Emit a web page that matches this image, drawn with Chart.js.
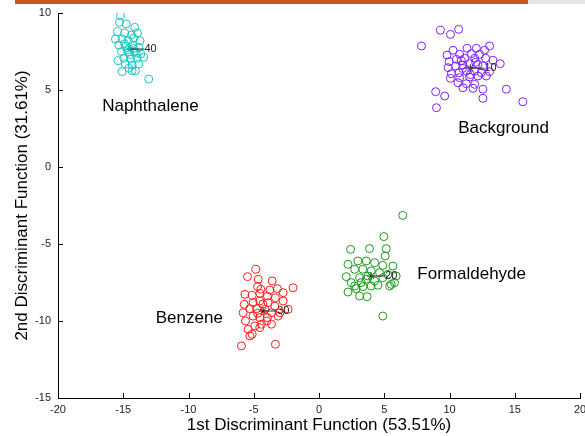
<!DOCTYPE html>
<html>
<head>
<meta charset="utf-8">
<script src="https://cdn.jsdelivr.net/npm/chart.js@4/dist/chart.umd.min.js"></script>
<style>
  html, body { margin: 0; padding: 0; background: #fff; }
  #wrap { position: relative; width: 585px; height: 436px; }
  #topbar { position: absolute; left: 15px; top: 0; width: 513px; height: 4px; background: #c8561f; }
  #topgray { position: absolute; left: 528px; top: 0; width: 57px; height: 4px; background: #e4e4e4; }
</style>
</head>
<body>
<div id="wrap">
  <canvas id="ldaChart" width="585" height="436"></canvas>
  <div id="topbar"></div>
  <div id="topgray"></div>
</div>
<script>
// LDA scatter: 4 groups
const naphX = [-15.21, -15.29, -14.78, -14.12, -15.44, -14.88, -14.37, -13.91, -15.60, -15.09, -14.63, -14.20, -13.71,
  -15.34, -14.83, -14.27, -13.81, -15.14, -14.63, -14.12, -13.66, -14.96, -14.45, -13.94, -13.43, -14.83, -14.32,
  -13.81, -14.58, -14.07, -15.09, -14.32, -13.05, -14.70, -14.20, -14.50, -14.90, -14.00, -15.40];
const naphY = [9.82, 9.40, 9.29, 9.07, 8.79, 8.70, 8.57, 8.70, 8.31, 8.31, 8.20, 8.36, 8.20,
  7.92, 7.84, 7.92, 7.77, 7.49, 7.45, 7.49, 7.34, 7.06, 7.01, 7.06, 7.12, 6.69, 6.62,
  6.69, 6.41, 6.25, 6.19, 6.25, 5.71, 7.60, 7.70, 7.30, 8.00, 7.40, 6.90];

const bgX = [9.30, 10.07, 10.70, 7.85, 13.07, 10.27, 11.34, 12.06, 12.69, 9.81, 10.78, 11.67, 12.31, 9.97, 10.53,
  11.16, 11.93, 12.77, 13.33, 13.89, 9.89, 10.47, 11.03, 11.54, 12.18, 12.56, 10.14, 10.73, 11.29, 11.93,
  12.44, 13.07, 10.07, 10.78, 11.54, 12.18, 12.82, 10.65, 11.29, 11.93, 11.03, 11.80, 12.56, 8.94, 9.63,
  14.35, 12.56, 9.00, 15.62, 11.00, 11.60, 12.00, 10.90];
const bgY = [8.88, 8.61, 8.94, 7.86, 7.86, 7.58, 7.71, 7.71, 7.58, 7.27, 7.32, 7.36, 7.32, 6.84, 6.99,
  7.06, 7.06, 7.06, 6.93, 6.71, 6.45, 6.56, 6.62, 6.71, 6.67, 6.56, 6.06, 6.12, 6.23, 6.23,
  6.12, 6.19, 5.76, 5.80, 5.84, 5.91, 5.91, 5.47, 5.41, 5.37, 5.15, 5.11, 5.05, 4.89, 4.61,
  5.05, 4.46, 3.85, 4.24, 6.40, 6.00, 6.80, 6.90];

const benzX = [-4.84, -5.48, -4.66, -3.59, -1.99, -4.71, -4.46, -3.77, -3.19, -5.68, -5.12, -4.54, -3.95, -3.34,
  -2.75, -5.73, -5.05, -4.54, -3.90, -3.39, -2.75, -5.81, -5.30, -4.79, -4.15, -3.64, -3.00, -2.37, -5.63,
  -5.05, -4.54, -3.95, -3.13, -5.43, -4.92, -4.41, -4.54, -3.64, -5.12, -5.30, -5.94, -3.34, -4.30, -4.70, -4.00];
const benzY = [-6.64, -7.12, -7.29, -7.40, -7.84, -7.77, -7.94, -7.99, -7.90, -8.27, -8.33, -8.20, -8.38, -8.49,
  -8.16, -8.92, -8.81, -8.70, -8.81, -9.03, -8.70, -9.46, -9.20, -9.20, -9.24, -9.46, -9.46, -9.24, -10.00,
  -9.68, -9.78, -9.78, -9.68, -10.54, -10.32, -10.21, -10.43, -10.21, -10.86, -10.97, -11.62, -11.51, -8.90, -9.50, -10.00];

const formX = [6.42, 4.97, 2.42, 3.87, 5.15, 5.07, 2.22, 2.98, 3.62, 4.26, 4.89, 5.66, 2.09, 2.73, 3.36, 4.00,
  4.64, 5.28, 5.91, 2.47, 3.11, 3.62, 4.26, 4.89, 5.53, 2.22, 2.85, 3.36, 4.00, 4.51, 5.79, 3.11, 3.69,
  2.73, 5.41, 4.89, 3.75, 3.23];
const formY = [-3.14, -4.52, -5.35, -5.30, -5.30, -5.78, -6.32, -6.10, -6.10, -6.21, -6.39, -6.43, -7.12, -6.64,
  -6.64, -6.75, -6.86, -6.97, -7.08, -7.51, -7.19, -7.29, -7.40, -7.19, -7.62, -8.12, -7.90, -7.77, -7.73,
  -7.68, -7.51, -8.38, -8.42, -7.73, -7.73, -9.68, -7.08, -7.51];

// group centroids and their numbers
const centroidX = [-14.45, 11.6, -4.28, 3.99];
const centroidY = [7.66, 6.42, -9.35, -7.08];
const centroidLabels = ['40', '10', '30', '20'];

// group names, placed in data units
const groupNames = ['Naphthalene', 'Background', 'Benzene', 'Formaldehyde'];
const groupNameX = [-12.92, 14.14, -9.94, 11.70];
const groupNameY = [3.96, 2.53, -9.81, -6.95];

const xTicks = [-20, -15, -10, -5, 0, 5, 10, 15, 20];
const yTicks = [-15, -10, -5, 0, 5, 10];

const FONT = 'Arial, "Liberation Sans", sans-serif';

function toPoints(xs, ys) {
  return xs.map((x, i) => ({ x: x, y: ys[i] }));
}

function groupSet(xs, ys, color) {
  return {
    data: toPoints(xs, ys),
    pointStyle: 'circle',
    pointRadius: 4,
    pointBorderWidth: 1,
    pointBorderColor: color,
    pointBackgroundColor: 'rgba(0,0,0,0)',
    showLine: false
  };
}

// inward tick marks, centroid lines/numbers and group names
const annotate = {
  id: 'annotate',
  afterDatasetsDraw(chart) {
    const ctx = chart.ctx;
    const xs = chart.scales.x;
    const ys = chart.scales.y;
    const area = chart.chartArea;
    ctx.save();
    ctx.strokeStyle = '#000';
    ctx.lineWidth = 1;
    ctx.beginPath();
    xTicks.forEach(v => {
      const px = Math.round(xs.getPixelForValue(v)) + 0.5;
      ctx.moveTo(px, area.bottom);
      ctx.lineTo(px, area.bottom - 5);
    });
    yTicks.forEach(v => {
      const py = Math.round(ys.getPixelForValue(v)) + 0.5;
      ctx.moveTo(area.left, py);
      ctx.lineTo(area.left + 5, py);
    });
    ctx.stroke();

    // centroid lines and numbers
    ctx.strokeStyle = '#333';
    ctx.fillStyle = '#222';
    ctx.font = '11px ' + FONT;
    ctx.textBaseline = 'middle';
    ctx.textAlign = 'left';
    centroidX.forEach((cx, i) => {
      const px = xs.getPixelForValue(cx);
      const py = ys.getPixelForValue(centroidY[i]);
      ctx.beginPath();
      ctx.moveTo(px, py);
      ctx.lineTo(px + 14, py);
      ctx.stroke();
      ctx.fillText(centroidLabels[i], px + 14, py);
    });

    // group names
    ctx.fillStyle = '#000';
    ctx.font = '17px ' + FONT;
    ctx.textAlign = 'center';
    groupNames.forEach((name, i) => {
      ctx.fillText(name, xs.getPixelForValue(groupNameX[i]), ys.getPixelForValue(groupNameY[i]));
    });
    ctx.restore();
  }
};

document.addEventListener('DOMContentLoaded', function() {
  const ctx = document.getElementById('ldaChart');
  new Chart(ctx, {
    type: 'scatter',
    data: {
      datasets: [
        groupSet(naphX, naphY, '#1cc4c4'),
        groupSet(bgX, bgY, '#8020ff'),
        groupSet(benzX, benzY, '#ff1a1a'),
        groupSet(formX, formY, '#1a9a1a'),
        {
          data: toPoints(centroidX, centroidY),
          pointStyle: 'star',
          pointRadius: 4,
          pointBorderWidth: 1,
          pointBorderColor: '#222',
          pointBackgroundColor: '#222'
        }
      ]
    },
    options: {
      responsive: false,
      animation: false,
      layout: { padding: { top: 13, right: 3, left: 0, bottom: 0 } },
      plugins: {
        legend: { display: false },
        tooltip: { enabled: false }
      },
      scales: {
        x: {
          type: 'linear',
          min: -20,
          max: 20,
          afterBuildTicks: s => { s.ticks = xTicks.map(v => ({ value: v })); },
          afterFit: s => { s.height = 38; s.paddingRight = 0; s.paddingLeft = 0; },
          border: { display: true, color: '#000', width: 1 },
          grid: { drawOnChartArea: false, drawTicks: false },
          ticks: { color: '#222', font: { size: 11, family: FONT }, padding: 5, maxRotation: 0 },
          title: {
            display: true,
            text: '1st Discriminant Function (53.51%)',
            color: '#000',
            font: { size: 17, family: FONT },
            padding: { top: 0, bottom: 0 }
          }
        },
        y: {
          type: 'linear',
          min: -15,
          max: 10,
          afterBuildTicks: s => { s.ticks = yTicks.map(v => ({ value: v })); },
          afterFit: s => { s.width = 58; s.paddingTop = 0; s.paddingBottom = 0; },
          border: { display: true, color: '#000', width: 1 },
          grid: { drawOnChartArea: false, drawTicks: false },
          ticks: { color: '#222', font: { size: 11, family: FONT }, padding: 7 },
          title: {
            display: true,
            text: '2nd Discriminant Function (31.61%)',
            color: '#000',
            font: { size: 17, family: FONT },
            padding: { top: 12, bottom: 0 }
          }
        }
      }
    },
    plugins: [annotate]
  });
});
</script>
</body>
</html>
